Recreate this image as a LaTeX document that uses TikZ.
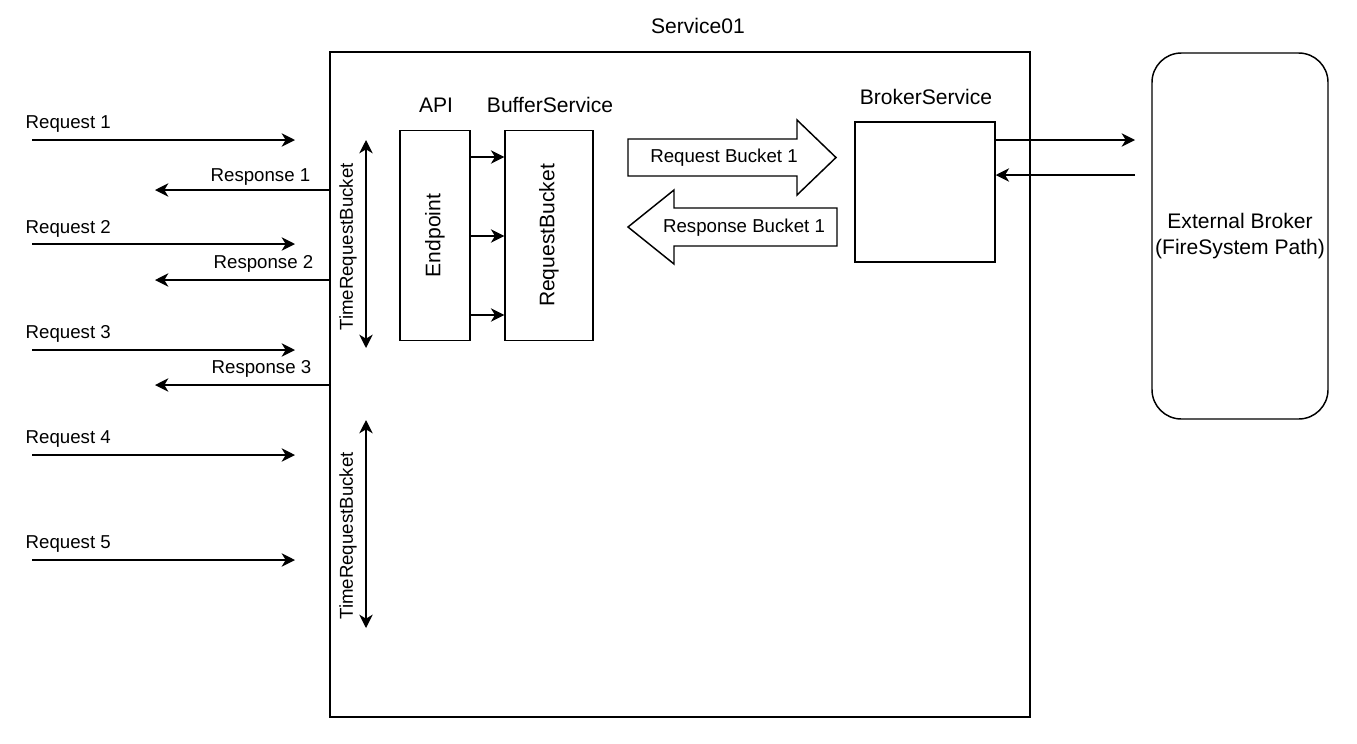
\documentclass[tikz,border=0pt]{standalone}
\usepackage{fontspec}
\setmainfont{Liberation Sans}
\usepackage{tikz}
\usetikzlibrary{positioning, arrows.meta}

\tikzset{
  box/.style={draw, line width=1.1pt, inner sep=0pt},
  big/.style={font=\fontsize{15.8}{19}\selectfont},
  flow/.style={-{Stealth[length=10pt,width=10pt,inset=3pt]}, line width=1.1pt},
  twoway/.style={{Stealth[length=10pt,width=10pt,inset=3pt]}-{Stealth[length=10pt,width=10pt,inset=3pt]}, line width=1.1pt},
  bigarrow/.style={draw, line width=1.1pt, line join=miter}
}

\begin{document}
\begin{tikzpicture}[x=0.75pt, y=-0.75pt, font=\fontsize{14}{17}\selectfont]
\useasboundingbox (0,0) rectangle (1357,743);

% Service frame
\node[box, minimum width=525pt, minimum height=498.75pt] (svc) at (680,384.5) {};
\node[big] (svctitle) at (698,26) {Service01};

% Inner boxes
\node[box, minimum width=52.5pt, minimum height=157.5pt] (api) at (435,235.5) {};
\node[big, rotate=90] (apitxt) at (api.center) {Endpoint};
\node[big] (apititle) at (436,105) {API};
\node[box, minimum width=66pt, minimum height=157.5pt] (buf) at (549,235.5) {};
\node[big, rotate=90] (buftxt) at (buf.center) {RequestBucket};
\node[big] (buftitle) at (550,105) {BufferService};
\node[box, minimum width=105pt, minimum height=105pt] (brk) at (925,192) {};
\node[big] (brktitle) at (926,97) {BrokerService};

% External broker
\node[box, big, rounded corners=22pt, minimum width=132pt, minimum height=274.5pt,
      align=center] (ext) at (1240,236) {External Broker\\(FireSystem Path)};

% Incoming requests
\coordinate (rq1a) at (32,140);  \coordinate (rq1b) at (295,140);
\coordinate (rq2a) at (32,244);  \coordinate (rq2b) at (295,244);
\coordinate (rq3a) at (32,350);  \coordinate (rq3b) at (295,350);
\coordinate (rq4a) at (32,455);  \coordinate (rq4b) at (295,455);
\coordinate (rq5a) at (32,560);  \coordinate (rq5b) at (295,560);
\draw[flow] (rq1a) -- (rq1b);
\draw[flow] (rq2a) -- (rq2b);
\draw[flow] (rq3a) -- (rq3b);
\draw[flow] (rq4a) -- (rq4b);
\draw[flow] (rq5a) -- (rq5b);
\node[anchor=west] (rq1txt) at (21,124) {Request 1};
\node[anchor=west] (rq2txt) at (21,229) {Request 2};
\node[anchor=west] (rq3txt) at (21,334) {Request 3};
\node[anchor=west] (rq4txt) at (21,439) {Request 4};
\node[anchor=west] (rq5txt) at (21,544) {Request 5};

% Outgoing responses
\coordinate (rs1) at (155,190);
\coordinate (rs2) at (155,280);
\coordinate (rs3) at (155,385);
\draw[flow] (svc.west |- rs1) -- (rs1);
\draw[flow] (svc.west |- rs2) -- (rs2);
\draw[flow] (svc.west |- rs3) -- (rs3);
\node[anchor=east] (rs1txt) at (315,177) {Response 1};
\node[anchor=east] (rs2txt) at (318,264) {Response 2};
\node[anchor=east] (rs3txt) at (316,369) {Response 3};

% Time buckets
\coordinate (tb1a) at (366,140); \coordinate (tb1b) at (366,348);
\coordinate (tb2a) at (366,420); \coordinate (tb2b) at (366,628);
\draw[twoway] (tb1a) -- (tb1b);
\draw[twoway] (tb2a) -- (tb2b);
\node[rotate=90] (tb1txt) at (348,247) {TimeRequestBucket};
\node[rotate=90] (tb2txt) at (348,536) {TimeRequestBucket};

% Endpoint to buffer
\draw[flow] (api.east |- 0,157) -- (buf.west |- 0,157);
\draw[flow] (api.east |- 0,236) -- (buf.west |- 0,236);
\draw[flow] (api.east |- 0,315) -- (buf.west |- 0,315);

% Bucket arrows
\draw[bigarrow] (628,139) -- (797,139) -- (797,120) -- (836,157.5) -- (797,195)
  -- (797,176) -- (628,176) -- cycle;
\node (reqbk) at (724,158) {Request Bucket 1};
\draw[bigarrow] (837,208) -- (674,208) -- (674,190) -- (628,227) -- (674,264)
  -- (674,246) -- (837,246) -- cycle;
\node (resbk) at (744,228) {Response Bucket 1};

% Broker to external
\coordinate (ex1) at (1135,140);
\coordinate (ex2) at (1135,175);
\draw[flow] (brk.east |- ex1) -- (ex1);
\draw[flow] (ex2) -- (brk.east |- ex2);
\end{tikzpicture}
\end{document}
